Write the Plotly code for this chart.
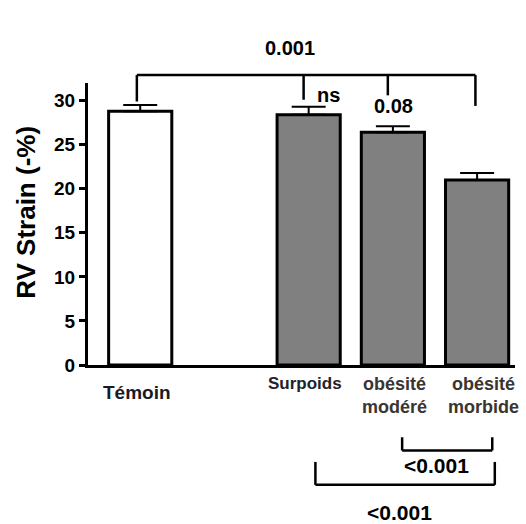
import plotly.graph_objects as go

# ---- data ----
categories = ["Témoin", "Surpoids", "obésité<br>modéré", "obésité<br>morbide"]
positions = [0, 2, 3, 4]
values = [28.8, 28.4, 26.4, 21.0]
errors_up = [0.7, 0.9, 0.7, 0.8]
y_ticks = [0, 5, 10, 15, 20, 25, 30]
top_pvalue = "0.001"
pair_labels = ["ns", "0.08"]
bottom_pvalues = ["<0.001", "<0.001"]

Y_MAX = 32.0
X_RANGE = [-0.62, 4.45]
FONT = "Liberation Sans, Arial, sans-serif"
GRAY = "#808080"

def py(v):
    # convert a value in y-data units to paper coordinates
    return v / Y_MAX

fig = go.Figure()
fig.add_trace(go.Bar(
    x=positions, y=values, width=0.75,
    marker=dict(color=["white", GRAY, GRAY, GRAY],
                line=dict(color="black", width=3)),
    error_y=dict(type="data", symmetric=False, array=errors_up,
                 arrayminus=[0] * len(values), color="black",
                 thickness=2, width=17),
    showlegend=False,
))

shapes = []
line_style = dict(color="black", width=2.5)

def seg(x0, y0, x1, y1):
    shapes.append(dict(type="line", xref="x", yref="paper",
                       x0=x0, x1=x1, y0=py(y0), y1=py(y1), line=line_style))

# top bracket
top_y = 32.9
seg(-0.04, top_y, 3.98, top_y)
for xx, yend in [(-0.04, 29.9), (1.94, 30.1), (2.94, 30.6), (3.98, 29.4)]:
    seg(xx, top_y, xx, yend)

# bottom inner bracket (modéré vs morbide)
seg(3.11, -9.7, 4.18, -9.7)
seg(3.11, -9.7, 3.11, -8.2)
seg(4.18, -9.7, 4.18, -8.2)
# bottom outer bracket (surpoids vs morbide)
seg(2.08, -13.6, 4.21, -13.6)
seg(2.08, -13.6, 2.08, -11.0)
seg(4.21, -13.6, 4.21, -11.0)

annotations = []

def txt(x, y, text, size, bold=True, color="black", xref="x"):
    annotations.append(dict(
        x=x, y=py(y), xref=xref, yref="paper", text=text, showarrow=False,
        xanchor="center", yanchor="middle",
        font=dict(family=FONT, size=size, color=color,
                  weight="bold" if bold else "normal")))

txt(1.78, 36.0, top_pvalue, 20)
txt(2.23, 30.6, pair_labels[0], 20)
txt(3.01, 29.4, pair_labels[1], 20)
txt(3.52, -11.4, bottom_pvalues[0], 21)
txt(3.08, -16.7, bottom_pvalues[1], 21)

# category labels
txt(positions[0] - 0.04, -3.1, categories[0], 19, color="#1a1a22")
txt(positions[1] - 0.04, -2.15, categories[1], 17, color="#22222a")
txt(positions[2] + 0.02, -3.5, categories[2], 18, color="#3a3530")
txt(positions[3] + 0.08, -3.5, categories[3], 18, color="#3a3530")

# y-axis title
annotations.append(dict(
    x=-0.145, y=0.54, xref="paper", yref="paper", text="RV Strain (-%)",
    showarrow=False, textangle=-90, xanchor="center", yanchor="middle",
    font=dict(family=FONT, size=26, color="black", weight="bold")))

fig.update_layout(
    width=526, height=524,
    margin=dict(l=88, r=11, t=83, b=159, autoexpand=False),
    paper_bgcolor="white", plot_bgcolor="white",
    shapes=shapes, annotations=annotations,
    xaxis=dict(range=X_RANGE, showline=True, linecolor="black", linewidth=3,
               showticklabels=False, ticks="", showgrid=False, zeroline=False,
               fixedrange=True),
    yaxis=dict(range=[0, Y_MAX], showline=True, linecolor="black", linewidth=3,
               tickvals=y_ticks, ticks="outside", ticklen=6, tickwidth=2.5,
               tickcolor="black", showgrid=False, zeroline=False,
               tickfont=dict(family=FONT, size=19, color="black", weight="bold"),
               automargin=False, fixedrange=True),
)

fig.write_html(
    "out.html",
    config={"displayModeBar": False},
    post_script="document.body.style.margin='0';document.body.style.overflow='hidden';",
)
